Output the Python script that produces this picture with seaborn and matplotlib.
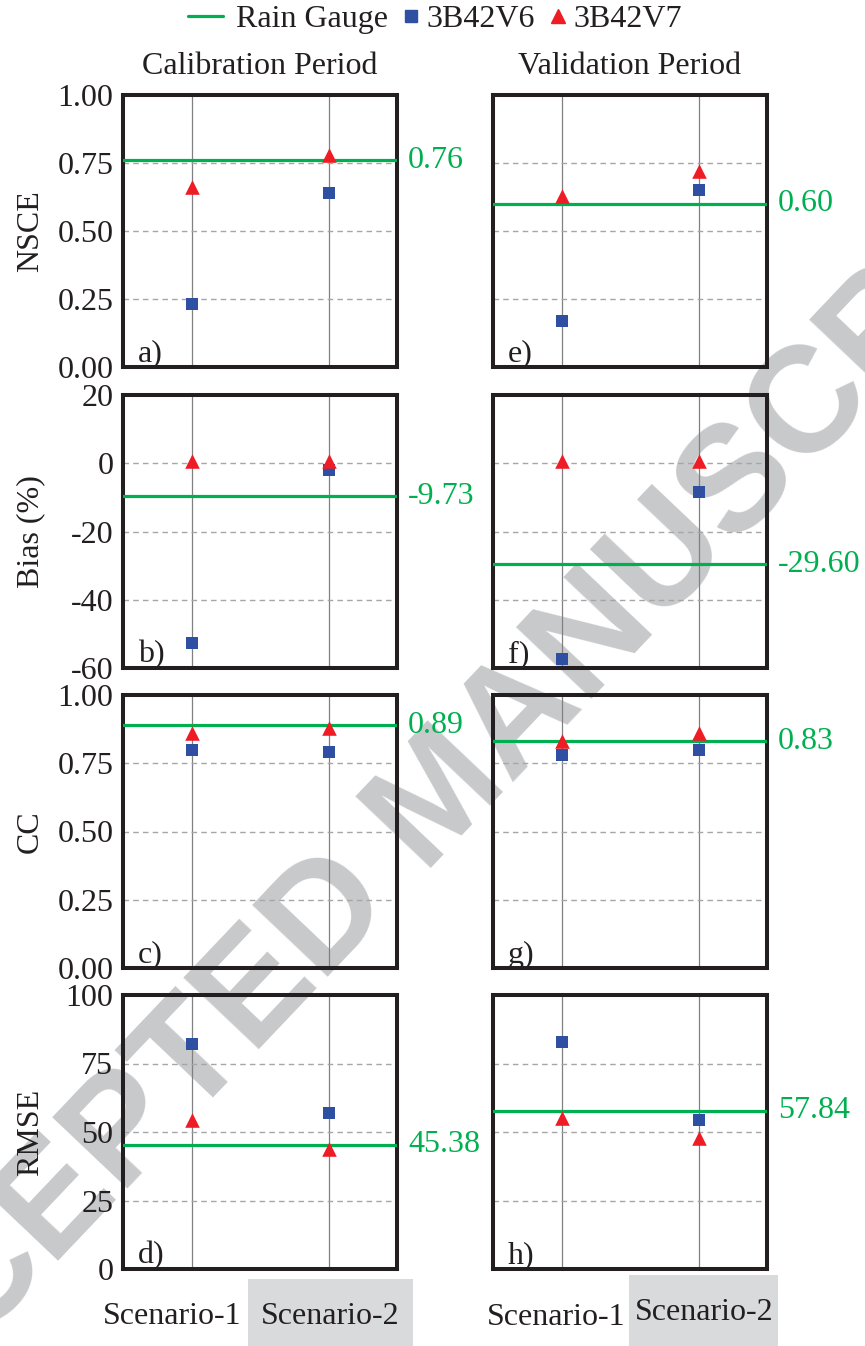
import matplotlib
matplotlib.use("Agg")
import numpy as np
import matplotlib.pyplot as plt
import matplotlib.transforms as mtransforms
from matplotlib.lines import Line2D
from matplotlib.patches import Rectangle
from matplotlib.legend_handler import HandlerLine2D
import pandas as pd
import seaborn as sns

# ---- data ----
scenarios = ["Scenario-1", "Scenario-2"]
periods = ["Calibration Period", "Validation Period"]
metrics = ["NSCE", "Bias (%)", "CC", "RMSE"]

nsce_v6 = {"cal": [0.23, 0.64], "val": [0.17, 0.65]}
nsce_v7 = {"cal": [0.66, 0.78], "val": [0.63, 0.72]}
nsce_gauge = {"cal": 0.76, "val": 0.60}

bias_v6 = {"cal": [-52.8, -2.0], "val": [-57.5, -8.3]}
bias_v7 = {"cal": [0.6, 0.8], "val": [0.6, 0.8]}
bias_gauge = {"cal": -9.73, "val": -29.60}

cc_v6 = {"cal": [0.80, 0.79], "val": [0.78, 0.80]}
cc_v7 = {"cal": [0.86, 0.88], "val": [0.83, 0.86]}
cc_gauge = {"cal": 0.89, "val": 0.83}

rmse_v6 = {"cal": [82.0, 57.0], "val": [83.0, 54.4]}
rmse_v7 = {"cal": [54.4, 43.7], "val": [55.0, 47.7]}
rmse_gauge = {"cal": 45.38, "val": 57.84}

nsce_ticks = [0.0, 0.25, 0.5, 0.75, 1.0]
nsce_labels = ["0.00", "0.25", "0.50", "0.75", "1.00"]
bias_ticks = [-60, -40, -20, 0, 20]
bias_labels = ["-60", "-40", "-20", "0", "20"]
cc_ticks = [0.0, 0.25, 0.5, 0.75, 1.0]
cc_labels = ["0.00", "0.25", "0.50", "0.75", "1.00"]
rmse_ticks = [0, 25, 50, 75, 100]
rmse_labels = ["0", "25", "50", "75", "100"]

panel_letters = [["a)", "e)"], ["b)", "f)"], ["c)", "g)"], ["d)", "h)"]]
series_names = ["Rain Gauge", "3B42V6", "3B42V7"]

# ---- style ----
sns.set_theme(style="white")
plt.rcParams["font.family"] = ["Liberation Serif", "DejaVu Serif"]
plt.rcParams["axes.unicode_minus"] = False
FS = 23
GREEN = "#00b050"
BLUE = "#2f4fa2"
RED = "#ee1c25"
FRAME = "#231f20"
INK = "#231f20"

rows = [
    (nsce_v6, nsce_v7, nsce_gauge, nsce_ticks, nsce_labels),
    (bias_v6, bias_v7, bias_gauge, bias_ticks, bias_labels),
    (cc_v6, cc_v7, cc_gauge, cc_ticks, cc_labels),
    (rmse_v6, rmse_v7, rmse_gauge, rmse_ticks, rmse_labels),
]

W, H = 865, 1346
fig = plt.figure(figsize=(W / 100, H / 100), dpi=100)

col_left = [123, 493]
col_w = 274
row_top = [95, 395, 695, 995]
row_bot = [367, 668, 968, 1269]

# watermark behind the panels
fig.text(442 / W, 1 - 800 / H, "ACCEPTED MANUSCRIPT", rotation=46.5,
         rotation_mode="anchor", ha="center", va="center",
         fontsize=108, fontweight="bold", family=["Liberation Sans"],
         color="#c8c9cb", zorder=-5)

label_shift = mtransforms.ScaledTranslation(0, -0.035, fig.dpi_scale_trans)

for r, (v6, v7, gauge, ticks, tlabels) in enumerate(rows):
    for c, key in enumerate(["cal", "val"]):
        x0 = col_left[c] / W
        y0 = 1 - row_bot[r] / H
        h = (row_bot[r] - row_top[r]) / H
        ax = fig.add_axes([x0, y0, col_w / W, h])
        ax.set_facecolor("none")

        df6 = pd.DataFrame({"scenario": scenarios, "value": v6[key]})
        df7 = pd.DataFrame({"scenario": scenarios, "value": v7[key]})
        ax.axhline(gauge[key], color=GREEN, lw=2.3, zorder=3)
        sns.scatterplot(data=df6, x="scenario", y="value", marker="s",
                        color=BLUE, s=85, linewidth=0, ax=ax, zorder=4)
        sns.scatterplot(data=df7, x="scenario", y="value", marker="^",
                        color=RED, s=110, linewidth=0, ax=ax, zorder=5)

        ax.set_xlim(-0.5, 1.5)
        ax.set_ylim(ticks[0], ticks[-1])
        ax.set_xticks([0, 1])
        ax.set_xticklabels([])
        ax.set_yticks(ticks)
        if c == 0:
            ax.set_yticklabels(tlabels, fontsize=FS)
            for lab in ax.get_yticklabels():
                lab.set_transform(lab.get_transform() + label_shift)
            ax.set_ylabel(metrics[r], fontsize=FS, color=INK)
            ax.yaxis.label.set_va("baseline")
            ax.yaxis.set_label_coords(-0.31, 0.5)
        else:
            ax.set_yticklabels([])
            ax.set_ylabel("")
        ax.set_xlabel("")
        ax.tick_params(axis="both", length=0, pad=7, colors=INK)

        ax.xaxis.grid(True, color="#808080", lw=0.9, ls="-")
        ax.yaxis.grid(True, color="#a6a6a6", lw=1.0, ls=(0, (4, 3)))
        ax.set_axisbelow(True)
        for sp in ax.spines.values():
            sp.set_visible(True)
            sp.set_linewidth(2.9)
            sp.set_color(FRAME)

        trans = mtransforms.blended_transform_factory(ax.transAxes, ax.transData)
        ax.text(1.04, gauge[key], f"{gauge[key]:.2f}", transform=trans,
                va="center", ha="left", color=GREEN, fontsize=FS, clip_on=False)
        ax.text(0.055, 0.02, panel_letters[r][c], transform=ax.transAxes,
                va="baseline", ha="left", fontsize=FS, color=INK)

        if r == 0:
            ax.set_title(periods[c], fontsize=FS, pad=15, color=INK)

        if r == 3:
            if c == 0:
                box = (0.456, 0.602, -0.036)
                pos1, pos2, y1, y2 = 0.179, 0.755, -0.175, -0.175
            else:
                box = (0.496, 0.544, -0.022)
                pos1, pos2, y1, y2 = 0.23, 0.77, -0.177, -0.159
            ax.add_patch(Rectangle((box[0], box[2] - 0.4), box[1], 0.4,
                                   transform=ax.transAxes, clip_on=False,
                                   facecolor="#d9dadc", edgecolor="none",
                                   zorder=0.5))
            ax.text(pos1, y1, scenarios[0], transform=ax.transAxes,
                    ha="center", va="center", fontsize=FS, color=INK)
            ax.text(pos2, y2, scenarios[1], transform=ax.transAxes,
                    ha="center", va="center", fontsize=FS, color=INK)


class LongLineHandler(HandlerLine2D):
    """Legend line that reaches further left than the (short) handle box."""

    def create_artists(self, legend, orig_handle, xdescent, ydescent,
                       width, height, fontsize, trans):
        arts = super().create_artists(legend, orig_handle, xdescent, ydescent,
                                      width, height, fontsize, trans)
        x_end = width - xdescent - 0.2 * fontsize
        x_start = x_end - 1.12 * fontsize
        arts[0].set_xdata(np.linspace(x_start, x_end, 3))
        return arts


handles = [
    Line2D([], [], color=GREEN, lw=2.3),
    Line2D([], [], marker="s", ls="none", color=BLUE, markersize=9),
    Line2D([], [], marker="^", ls="none", color=RED, markersize=10),
]
fig.legend(handles, series_names, loc="center",
           bbox_to_anchor=(447 / W, 1 - 19 / H), ncol=3, frameon=False,
           fontsize=FS, handlelength=0.55, handletextpad=0.2,
           columnspacing=0.45, borderpad=0, labelcolor=INK,
           handler_map={handles[0]: LongLineHandler()})

fig.savefig("out.png", dpi=100)
